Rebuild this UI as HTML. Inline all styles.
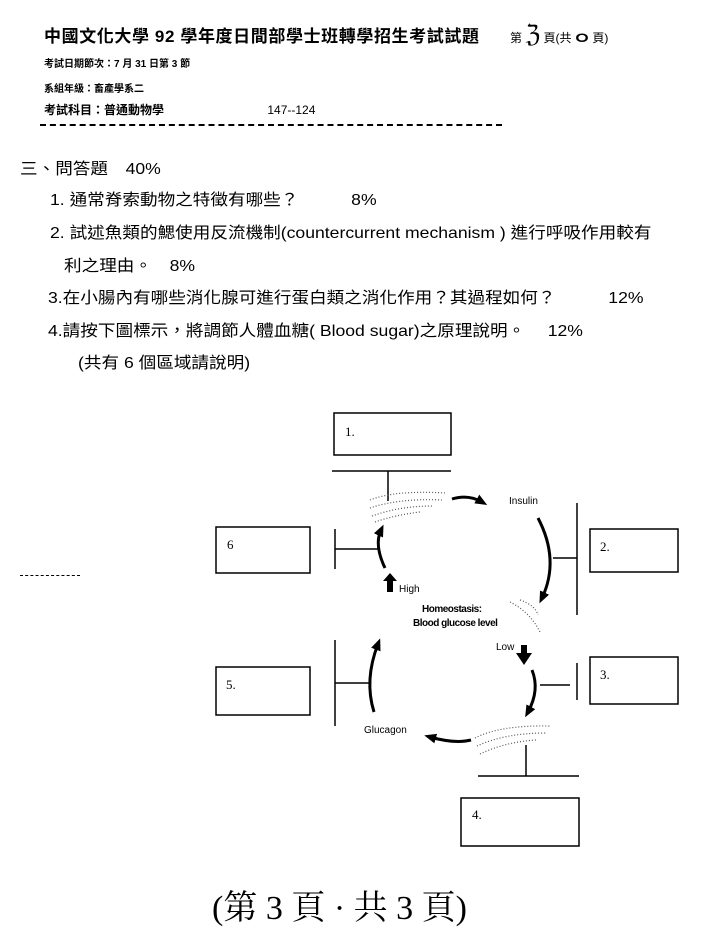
<!DOCTYPE html>
<html><head><meta charset="utf-8"><style>
body{margin:0;background:#fff;width:721px;height:949px;overflow:hidden;position:relative;font-family:"Liberation Sans","Noto Sans CJK TC",sans-serif;color:#000}
.t{position:absolute;white-space:nowrap}
.q{position:absolute;white-space:nowrap;font-size:16px;transform-origin:0 0;transform:scaleX(1.1)}
</style></head><body>
<div class="t" style="left:44px;top:22px;font-size:17px;font-weight:bold;letter-spacing:0.6px">中國文化大學 92 學年度日間部學士班轉學招生考試試題</div>
<div class="t" style="left:510px;top:20px;font-size:12px">第 <span style="font-size:24px">ℨ</span> 頁(共 <span style="font-size:22px">ⴰ</span> 頁)</div>
<div class="t" style="left:44px;top:55px;font-size:10px;font-weight:bold">考試日期節次：7 月 31 日第 3 節</div>
<div class="t" style="left:44px;top:80px;font-size:10px;font-weight:bold">系組年級：畜產學系二</div>
<div class="t" style="left:44px;top:101px;font-size:12px;font-weight:bold">考試科目：普通動物學 <span style="margin-left:100px;font-weight:normal">147--124</span></div>
<div style="position:absolute;left:40px;top:124px;width:462px;border-top:2px dashed #000"></div>
<div class="q" style="left:20px;top:155px">三、問答題　40%</div>
<div class="q" style="left:50px;top:186px">1. 通常脊索動物之特徵有哪些？　　　8%</div>
<div class="q" style="left:50px;top:219px">2. 試述魚類的鰓使用反流機制(countercurrent mechanism ) 進行呼吸作用較有</div>
<div class="q" style="left:64px;top:252px">利之理由。　8%</div>
<div class="q" style="left:48px;top:284px">3.在小腸內有哪些消化腺可進行蛋白類之消化作用？其過程如何？　　　12%</div>
<div class="q" style="left:48px;top:317px">4.請按下圖標示，將調節人體血糖( Blood sugar)之原理說明。　 12%</div>
<div class="q" style="left:78px;top:349px">(共有 6 個區域請說明)</div>
<svg style="position:absolute;left:0;top:0" width="721" height="949">
<defs><marker id="a" markerWidth="12" markerHeight="10" refX="6" refY="5" orient="auto" markerUnits="userSpaceOnUse"><path d="M0,0 L12,5 L0,10 z"/></marker></defs>
<g fill="none" stroke="#000" stroke-width="1.5">
<rect x="334" y="413" width="117" height="42"/>
<rect x="216" y="527" width="94" height="46"/>
<rect x="590" y="529" width="88" height="43"/>
<rect x="216" y="667" width="94" height="48"/>
<rect x="590" y="657" width="88" height="47"/>
<rect x="461" y="798" width="118" height="48"/>
<path d="M332 471H451M388 471V501M335 529V569M335 549H380M577 503V615M553 558H577M335 640V726M335 683H370M577 663V700M540 685H570M478 776H579M526 745V776"/>
</g>
<g fill="none" stroke="#000" stroke-width="3">
<path d="M452 499 Q468 494 482 502" marker-end="url(#a)"/>
<path d="M538 518 Q560 560 542 598" marker-end="url(#a)"/>
<path d="M385 568 Q374 545 381 530" marker-end="url(#a)"/>
<path d="M532 670 Q540 690 528 712" marker-end="url(#a)"/>
<path d="M471 740 Q455 744 430 737" marker-end="url(#a)"/>
<path d="M374 712 Q364 680 378 644" marker-end="url(#a)"/>
</g>
<path d="M383 581 L390 573 L397 581 L393 581 L393 592 L387 592 L387 581 z"/>
<path d="M521 645 L527 645 L527 653 L532 653 L524 665 L516 653 L521 653 z"/>
<g fill="none" stroke="#555" stroke-width="1.2" stroke-dasharray="1 2">
<path d="M370 500 Q395 490 445 493 M370 508 Q400 498 442 500 M372 516 Q400 506 432 506 M375 522 Q395 515 420 512"/>
<path d="M475 738 Q500 725 550 726 M477 746 Q505 733 546 733 M480 754 Q505 742 536 740"/>
<path d="M510 602 Q530 612 540 632 M520 600 Q535 605 538 615"/>
</g>
</svg>
<div class="t" style="left:345px;top:424px;font-size:13px;font-family:'Liberation Serif',serif">1.</div>
<div class="t" style="left:227px;top:537px;font-size:13px;font-family:'Liberation Serif',serif">6</div>
<div class="t" style="left:600px;top:539px;font-size:13px;font-family:'Liberation Serif',serif">2.</div>
<div class="t" style="left:226px;top:677px;font-size:13px;font-family:'Liberation Serif',serif">5.</div>
<div class="t" style="left:600px;top:667px;font-size:13px;font-family:'Liberation Serif',serif">3.</div>
<div class="t" style="left:472px;top:807px;font-size:13px;font-family:'Liberation Serif',serif">4.</div>
<div class="t" style="left:509px;top:496px;font-size:10px">Insulin</div>
<div class="t" style="left:399px;top:584px;font-size:10px">High</div>
<div class="t" style="left:422px;top:604px;font-size:10px;font-weight:bold;letter-spacing:-0.5px">Homeostasis:</div>
<div class="t" style="left:413px;top:618px;font-size:10px;font-weight:bold;letter-spacing:-0.5px">Blood glucose level</div>
<div class="t" style="left:496px;top:642px;font-size:10px">Low</div>
<div class="t" style="left:364px;top:725px;font-size:10px">Glucagon</div>
<div style="position:absolute;left:20px;top:575px;width:60px;border-top:1px dashed #000"></div>
<div class="t" style="left:212px;top:880px;font-size:34px;font-family:'Liberation Serif','Noto Serif CJK SC',serif">(第 3 頁 · 共 3 頁)</div>
</body></html>
